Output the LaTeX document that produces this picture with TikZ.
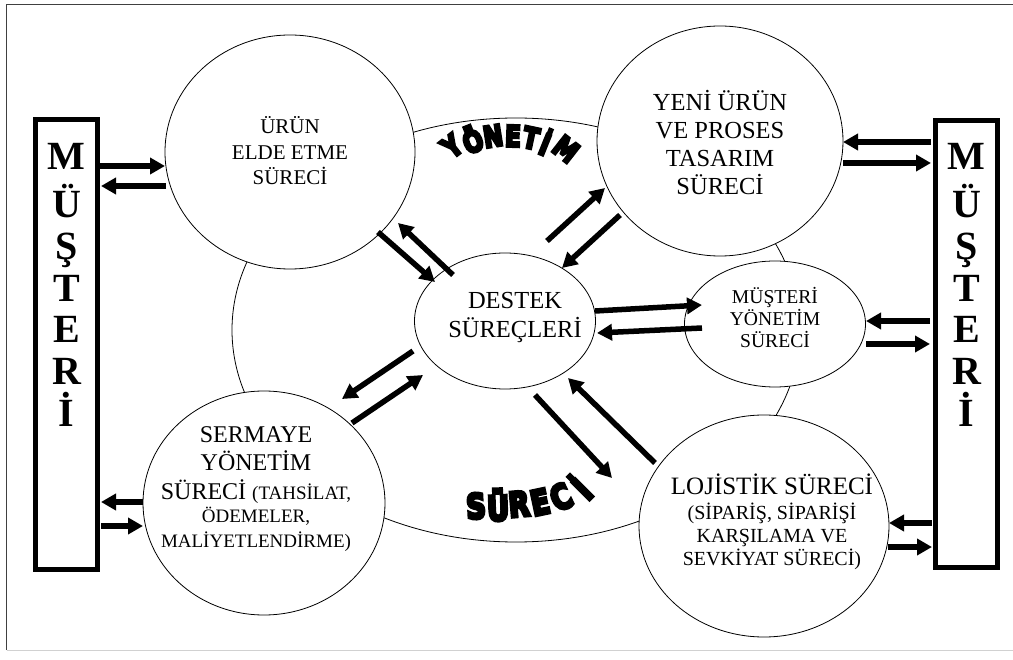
\documentclass[tikz,border=0pt]{standalone}
\usepackage{fontspec}
\setmainfont{Liberation Serif}
\newfontfamily\wafont{DejaVu Sans}[UprightFont={* Bold},FakeBold=10]
\usetikzlibrary{shapes.geometric,arrows.meta}
\newcommand{\fs}[2]{\fontsize{#1}{#2}\selectfont}
\begin{document}
\begin{tikzpicture}[x=1pt,y=-1pt,
  proc/.style={ellipse,draw,line width=0.8pt,fill=white,inner sep=0pt},
  lbl/.style={align=center,inner sep=0pt},
  flow/.style={line width=5.5pt,-{Triangle[length=15pt,width=16pt]}},
  custbox/.style={draw,line width=5pt,inner sep=0pt},
  custletter/.style={font=\fs{40}{40}\bfseries,anchor=base,inner sep=0pt},
  waY/.style={font=\wafont\fs{29}{29},inner sep=0pt},
  waS/.style={font=\wafont\fs{34}{34},inner sep=0pt},
]
\useasboundingbox (0,0) rectangle (1013,660);
% page frame
\draw[line width=1.2pt,black!75] (6.5,650) -- (6.5,4.5) -- (1013,4.5);
\draw[line width=1pt,black!18] (6.5,650) -- (1013,650);

% management process ring
\node[proc,minimum width=568pt,minimum height=424pt] (mgmt) at (516,330) {};

% processes
\node[proc,minimum width=250pt,minimum height=234pt] (urun) at (290,152) {};
\node[proc,minimum width=246pt,minimum height=230pt] (yeni) at (720,141) {};
\node[proc,minimum width=181pt,minimum height=136pt] (destek) at (505,321) {};
\node[proc,minimum width=181pt,minimum height=126pt] (musteri) at (775,324) {};
\node[proc,minimum width=250pt,minimum height=222pt] (lojistik) at (764,526) {};
\node[proc,minimum width=242pt,minimum height=224pt] (sermaye) at (264,503) {};

\node[lbl,font=\fs{21}{25.5}] (urunT) at (290,151) {ÜRÜN\\ELDE ETME\\SÜRECİ};
\node[lbl,font=\fs{24.5}{28}] (yeniT) at (720,143) {YENİ ÜRÜN\\VE PROSES\\TASARIM\\SÜRECİ};
\node[lbl,font=\fs{24.5}{29}] (destekT) at (515,317) {DESTEK\\SÜREÇLERİ};
\node[lbl,font=\fs{19.6}{22}] (musteriT) at (775,318) {MÜŞTERİ\\YÖNETİM\\SÜRECİ};
\node[lbl,font=\fs{20}{23}] (lojT) at (772,522)
  {{\fs{25}{25}LOJİSTİK SÜRECİ}\\[2pt](SİPARİŞ, SİPARİŞİ\\KARŞILAMA VE\\SEVKİYAT SÜRECİ)};
\node[lbl,font=\fs{24}{28.5}] (sermayeT) at (256,489)
  {SERMAYE\\YÖNETİM\\SÜRECİ {\fs{19}{23}(TAHSİLAT,}\\[-5pt]{\fs{19}{23}ÖDEMELER,}\\[-4pt]{\fs{19}{23}MALİYETLENDİRME)}};

% customer boxes
\node[custbox,minimum width=62pt,minimum height=450pt] (custL) at (66.5,344.5) {};
\node[custbox,minimum width=62pt,minimum height=447pt] (custR) at (966.5,344) {};
\foreach \c/\yy [count=\i] in {M/170,Ü/218,Ş/260,T/302,E/343,R/385,İ/427}{
  \node[custletter] (cl\i) at (66.5,\yy) {\c};
  \node[custletter] (cr\i) at (966.5,\yy) {\c};
}

% arched titles of the ring
\foreach \c/\px/\py/\r [count=\i] in {Y/452/146/38,Ö/472/139/22,N/493/136/9,E/513/136/-2,T/531/138/-12,İ/546/142/-22,M/566/149/-38}{
  \node[waY,rotate=\r,xscale=0.8] (wy\i) at (\px,\py) {\c};
}
\foreach \c/\px/\py/\r [count=\i] in {S/476/506/3,Ü/498/505/2,R/519/504/5,E/540/502/12,C/561/497/25,İ/580/487/45}{
  \node[waS,rotate=\r,xscale=0.8] (ws\i) at (\px,\py) {\c};
}

% arrow end points
\coordinate (a1s) at (100,166); \coordinate (a1e) at (165,166);
\coordinate (a2s) at (166,186); \coordinate (a2e) at (101,186);
\coordinate (b1s) at (931,142); \coordinate (b1e) at (843,142);
\coordinate (b2s) at (843,163); \coordinate (b2e) at (931,163);
\coordinate (c1s) at (930,321); \coordinate (c1e) at (866,321);
\coordinate (c2s) at (866,344); \coordinate (c2e) at (930,344);
\coordinate (d1s) at (932,523); \coordinate (d1e) at (889,523);
\coordinate (d2s) at (888,547); \coordinate (d2e) at (932,547);
\coordinate (e1s) at (143,502); \coordinate (e1e) at (101,502);
\coordinate (e2s) at (101,526); \coordinate (e2e) at (143,526);
\coordinate (f1s) at (595,311); \coordinate (f1e) at (702,305);
\coordinate (f2s) at (702,328); \coordinate (f2e) at (597,333);
\coordinate (g1s) at (378,232); \coordinate (g1e) at (435,282);
\coordinate (g2s) at (453,275); \coordinate (g2e) at (398,223);
\coordinate (h1s) at (547,241); \coordinate (h1e) at (605,188);
\coordinate (h2s) at (620,215); \coordinate (h2e) at (562,268);
\coordinate (k1s) at (413,351); \coordinate (k1e) at (342,399);
\coordinate (k2s) at (352,423); \coordinate (k2e) at (423,375);
\coordinate (m1s) at (535,395); \coordinate (m1e) at (612,478);
\coordinate (m2s) at (655,463); \coordinate (m2e) at (568,378);

\foreach \p in {a,b,c,d,e,f,g,h,k,m}{
  \draw[flow] (\p1s) -- (\p1e);
  \draw[flow] (\p2s) -- (\p2e);
}
\end{tikzpicture}
\end{document}
